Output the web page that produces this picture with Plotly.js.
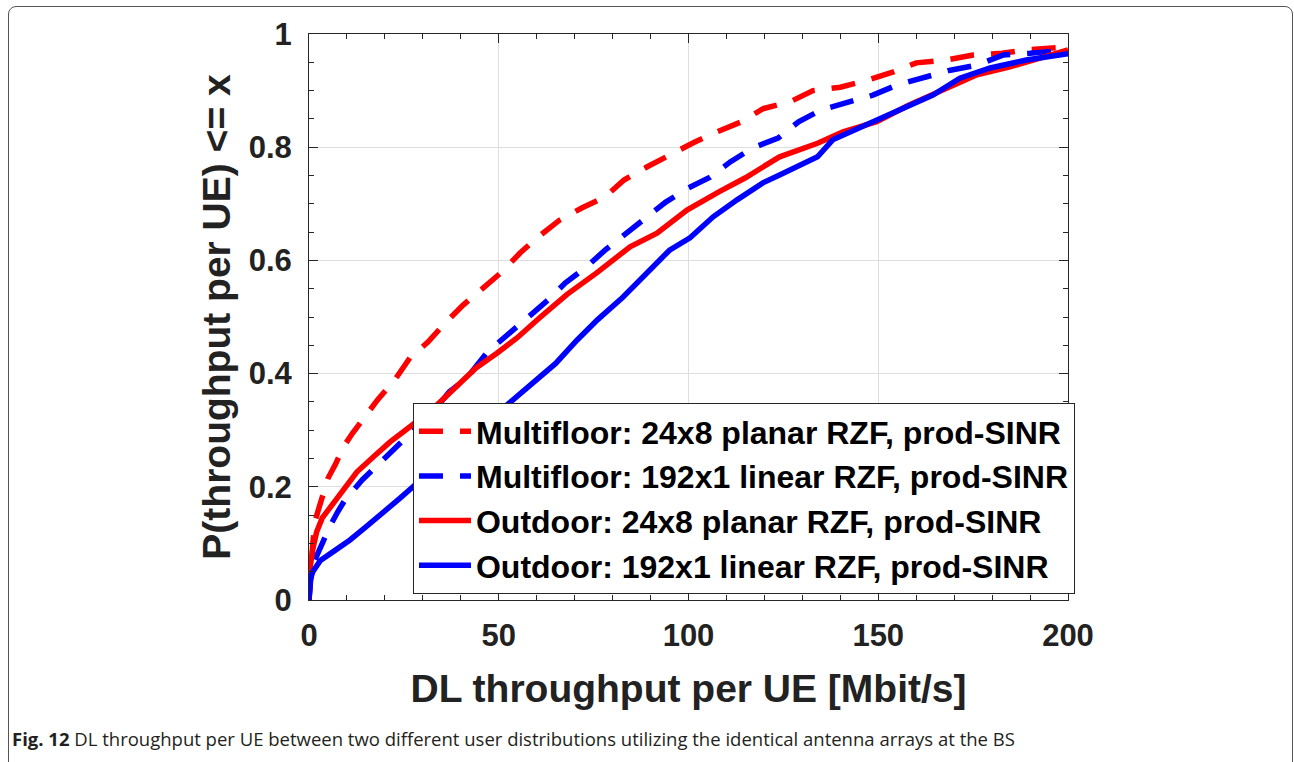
<!DOCTYPE html>
<html>
<head>
<meta charset="utf-8">
<script src="https://cdn.plot.ly/plotly-3.0.1.min.js"></script>
<style>
  html, body { margin: 0; padding: 0; background: #fff; }
  #wrap { position: relative; width: 1294px; height: 762px; overflow: hidden; }
  #chart { position: absolute; left: 0; top: 0; width: 1294px; height: 762px; }
  #frame { position: absolute; left: 8px; top: 6px; width: 1285px; height: 800px;
           border: 1px solid #555; border-radius: 8px; pointer-events: none; box-sizing: border-box; }
</style>
</head>
<body>
<div id="wrap">
  <div id="chart"></div>
  <div id="frame"></div>
</div>
<script>
// ---- data ----
const seriesNames = [
  "Multifloor: 24x8 planar RZF, prod-SINR",
  "Multifloor: 192x1 linear RZF, prod-SINR",
  "Outdoor: 24x8 planar RZF, prod-SINR",
  "Outdoor: 192x1 linear RZF, prod-SINR"
];

const mf24x8_x = [0, 0.4, 1, 1.6, 2.5, 3.5, 5, 7, 9, 11.5, 14, 18, 22.6, 26.6, 31.4, 35.8, 40.6, 45.6, 50.9, 55.6, 60.3, 66, 72, 78, 83, 89, 95, 101, 107.5, 114, 119.6, 126.7, 132.8, 140, 147, 154, 160, 168, 175, 182.6, 189, 197, 200];
const mf24x8_y = [0, 0.05, 0.10, 0.14, 0.16, 0.19, 0.215, 0.24, 0.27, 0.295, 0.318, 0.353, 0.389, 0.428, 0.456, 0.489, 0.521, 0.551, 0.58, 0.613, 0.641, 0.671, 0.693, 0.712, 0.742, 0.765, 0.786, 0.807, 0.827, 0.845, 0.868, 0.88, 0.90, 0.906, 0.918, 0.933, 0.949, 0.954, 0.963, 0.966, 0.972, 0.974, 0.977];

const mf192x1_x = [0, 0.5, 1.5, 3.4, 5.5, 7.5, 9.5, 14, 18.7, 23.5, 28, 33, 37, 41.6, 47, 52.4, 58, 63, 67.5, 73, 78, 84, 88.5, 94, 100, 105.7, 111, 117, 123.6, 129, 135, 142, 148.6, 155, 162, 169, 176, 183, 190, 200];
const mf192x1_y = [0, 0.04, 0.07, 0.10, 0.13, 0.155, 0.177, 0.212, 0.242, 0.274, 0.30, 0.335, 0.368, 0.392, 0.438, 0.468, 0.50, 0.53, 0.56, 0.588, 0.618, 0.65, 0.675, 0.703, 0.728, 0.747, 0.774, 0.799, 0.816, 0.845, 0.866, 0.88, 0.892, 0.91, 0.922, 0.936, 0.945, 0.963, 0.966, 0.972];

const od24x8_x = [0, 0.3, 1, 2, 3.5, 5.5, 9, 12.6, 17, 21.3, 26.6, 33, 39, 44, 49.5, 54.8, 61, 68, 75.8, 84.6, 91.7, 99.6, 108, 115, 124, 134, 140.7, 149.6, 158, 167, 176, 184.7, 192, 200];
const od24x8_y = [0, 0.058, 0.09, 0.12, 0.145, 0.163, 0.195, 0.226, 0.253, 0.279, 0.306, 0.34, 0.378, 0.41, 0.436, 0.463, 0.50, 0.54, 0.578, 0.624, 0.648, 0.689, 0.721, 0.746, 0.783, 0.807, 0.827, 0.845, 0.874, 0.901, 0.928, 0.942, 0.957, 0.972];

const od192x1_x = [0, 0.3, 1, 3, 6.3, 10.8, 15, 19.5, 24, 27.4, 33, 40, 47, 53.8, 59, 65, 70.6, 76, 82.7, 90.6, 95, 100.4, 106.5, 112.8, 119.6, 124, 128.6, 134, 138, 142.6, 149.6, 155.7, 164.4, 171.5, 179.5, 189, 200];
const od192x1_y = [0, 0.035, 0.05, 0.07, 0.085, 0.106, 0.129, 0.153, 0.18, 0.2, 0.235, 0.275, 0.315, 0.353, 0.383, 0.418, 0.459, 0.495, 0.535, 0.588, 0.618, 0.64, 0.677, 0.707, 0.737, 0.751, 0.765, 0.783, 0.813, 0.827, 0.848, 0.866, 0.892, 0.922, 0.94, 0.954, 0.965];

const xTickVals = [0, 50, 100, 150, 200];
const yTickVals = [0, 0.2, 0.4, 0.6, 0.8, 1];
const yTickText = ["0", "0.2", "0.4", "0.6", "0.8", "1"];

const xTitle = "DL throughput per UE [Mbit/s]";
const yTitle = "P(throughput per UE) <= x";
const captionBold = "Fig. 12";
const captionText = " DL throughput per UE between two different user distributions utilizing the identical antenna arrays at the BS";

// ---- traces ----
const RED = "#ff0000", BLUE = "#0000ff";
const DASH = "24px,17px";
const LW = 5.5;
function tr(x, y, name, color, dash, grp) {
  return { type: "scatter", mode: "lines", x: x, y: y, name: name, legendgroup: grp,
           line: { color: color, width: LW, dash: dash } };
}
const data = [
  tr(mf24x8_x, mf24x8_y, seriesNames[0], RED, DASH, "a"),
  tr(mf192x1_x, mf192x1_y, seriesNames[1], BLUE, DASH, "b"),
  tr(od24x8_x, od24x8_y, seriesNames[2], RED, "solid", "c"),
  tr(od192x1_x, od192x1_y, seriesNames[3], BLUE, "solid", "d")
];

const FONT = "Liberation Sans, Arial, Helvetica, sans-serif";
const TXT = "#222222";

const axisCommon = {
  showline: true, linecolor: "#262626", linewidth: 1, mirror: "ticks",
  ticks: "inside", ticklen: 9, tickcolor: "#262626", tickwidth: 1,
  showgrid: true, gridcolor: "#dedede", gridwidth: 1, zeroline: false,
  tickfont: { family: FONT, size: 31, color: TXT, weight: "bold" }
};

const layout = {
  width: 1294, height: 762,
  margin: { l: 309, r: 226, t: 34, b: 162 },
  paper_bgcolor: "#ffffff", plot_bgcolor: "#ffffff",
  font: { family: FONT, color: TXT },
  showlegend: true,
  xaxis: Object.assign({}, axisCommon, {
    range: [0, 200], tickvals: xTickVals, ticklabelstandoff: 8,
    minor: { dtick: 10, tick0: 0, ticks: "inside", ticklen: 5, tickcolor: "#262626", showgrid: false },
    title: { text: xTitle, font: { family: FONT, size: 39, color: TXT, weight: "bold" }, standoff: 22 }
  }),
  yaxis: Object.assign({}, axisCommon, {
    range: [0, 1], tickvals: yTickVals, ticktext: yTickText, ticklabelstandoff: 10,
    minor: { dtick: 0.05, tick0: 0, ticks: "inside", ticklen: 5, tickcolor: "#262626", showgrid: false },
    title: { text: yTitle, font: { family: FONT, size: 39, color: TXT, weight: "bold" }, standoff: 6 }
  }),
  legend: {
    x: 0.137, y: 0.348, xanchor: "left", yanchor: "top",
    bgcolor: "#ffffff", bordercolor: "#262626", borderwidth: 1,
    font: { family: FONT, size: 32, color: "#000", weight: "bold" },
    tracegroupgap: 0, itemwidth: 52, traceorder: "normal"
  },
  annotations: [{
    xref: "paper", yref: "paper", x: -309 / 759, y: -(738 - 600) / 566,
    xanchor: "left", yanchor: "middle", showarrow: false, xshift: 10,
    text: "<b>" + captionBold + "</b>" + captionText,
    font: { family: "Open Sans, Noto Sans, sans-serif", size: 18.5, color: "#231f20" }
  }]
};

Plotly.newPlot("chart", data, layout, { displayModeBar: false, staticPlot: true });
</script>
</body>
</html>
